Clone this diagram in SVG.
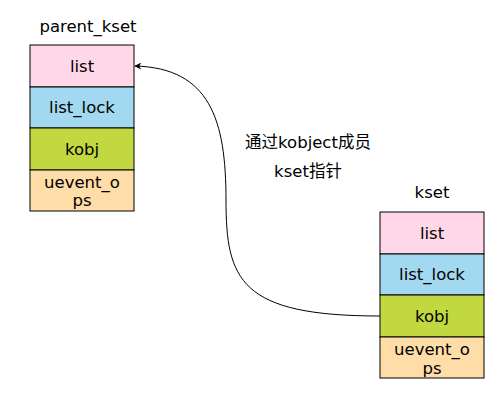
<svg xmlns="http://www.w3.org/2000/svg" width="504" height="414" viewBox="0 0 504 414">
<style>
text{font-family:"DejaVu Sans","Noto Sans CJK SC",sans-serif;font-size:16.5px;fill:#000;text-anchor:middle}
.b{stroke:#000;stroke-width:1}
.p{fill:#FFD7E8}.c{fill:#A2D8F0}.g{fill:#C1D841}.o{fill:#FFDDA8}
.e{fill:none;stroke:#000;stroke-width:1}
</style>
<defs>
<marker id="ah" viewBox="0 0 10 10" refX="9" refY="5" markerWidth="7" markerHeight="7" orient="auto" markerUnits="userSpaceOnUse">
<path d="M0,0 L10,5 L0,10 L3,5 Z" fill="#000"/>
</marker>
</defs>
<rect width="504" height="414" fill="#fff"/>
<g id="parent_kset">
<text x="88" y="32">parent_kset</text>
<rect class="b p" x="30" y="45" width="104" height="42"/>
<text x="82" y="72">list</text>
<rect class="b c" x="30" y="87" width="104" height="41"/>
<text x="82" y="113">list_lock</text>
<rect class="b g" x="30" y="128" width="104" height="42"/>
<text x="82" y="155">kobj</text>
<rect class="b o" x="30" y="170" width="104" height="41"/>
<text x="82" y="188">uevent_o</text>
<text x="82" y="206">ps</text>
</g>
<g id="kset">
<text x="432" y="198">kset</text>
<rect class="b p" x="380" y="212" width="104" height="42"/>
<text x="432" y="239">list</text>
<rect class="b c" x="380" y="254" width="104" height="41"/>
<text x="432" y="280">list_lock</text>
<rect class="b g" x="380" y="295" width="104" height="42"/>
<text x="432" y="322">kobj</text>
<rect class="b o" x="380" y="337" width="104" height="41"/>
<text x="432" y="355">uevent_o</text>
<text x="432" y="374">ps</text>
</g>
<g id="label">
<text x="308" y="148">通过kobject成员</text>
<text x="308" y="177">kset指针</text>
</g>
<g id="connectors">
<path class="e" d="M380,316 C240,316 226,280 226,200 C226,120 210,68 135,66" marker-end="url(#ah)"/>
</g>
</svg>
